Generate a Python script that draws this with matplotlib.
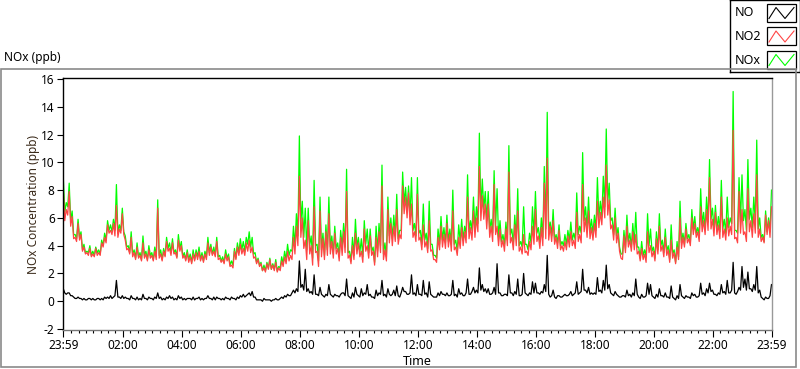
import numpy as np
import matplotlib.pyplot as plt
from matplotlib.patches import Rectangle

plt.rcParams['font.family'] = ['Noto Sans', 'DejaVu Sans']
plt.rcParams['axes.unicode_minus'] = False

# readings every 3 minutes from 23:59, one row per hour (ppb)
no2 = [
    8.0, 5.8, 6.6, 6.2, 7.9, 5.4, 6.1, 4.5, 4.6, 4.3, 5.6, 4.4, 4.8, 3.6, 3.9, 3.4, 3.5, 3.3, 3.8, 3.2,
    3.4, 3.2, 3.8, 3.3, 3.5, 3.3, 4.2, 3.9, 4.6, 4.2, 5.5, 4.9, 5.1, 4.8, 5.6, 4.7, 6.9, 4.6, 5.2, 4.9,
    6.3, 4.8, 4.4, 3.7, 3.8, 3.4, 4.6, 3.2, 3.5, 3.0, 3.9, 3.1, 3.3, 2.9, 4.2, 3.1, 3.4, 2.9, 3.7, 3.1,
    3.3, 2.9, 3.6, 3.0, 6.7, 3.1, 3.4, 2.9, 3.6, 3.2, 4.3, 3.6, 3.8, 3.3, 4.2, 3.4, 3.5, 3.1, 4.4, 3.6,
    4.0, 3.1, 3.3, 2.9, 3.5, 2.8, 3.2, 2.7, 3.4, 2.9, 3.5, 3.0, 3.6, 2.9, 3.3, 2.8, 3.4, 3.0, 4.2, 3.3,
    3.9, 3.3, 3.6, 3.2, 4.3, 3.0, 3.1, 2.8, 3.0, 2.7, 3.4, 2.9, 3.2, 2.5, 2.6, 2.4, 3.6, 3.0, 3.9, 3.3,
    4.1, 3.4, 3.8, 3.3, 4.2, 3.6, 4.4, 3.5, 3.9, 3.1, 3.2, 2.7, 3.0, 2.5, 2.7, 2.2, 2.4, 2.1, 2.7, 2.3,
    3.0, 2.3, 2.6, 2.2, 2.8, 2.1, 2.4, 2.2, 2.9, 2.5, 3.2, 2.7, 3.6, 2.9, 3.3, 3.0, 4.6, 3.4, 5.4, 4.0,
    9.0, 4.6, 6.0, 3.8, 4.4, 3.0, 5.8, 3.4, 4.0, 2.6, 6.8, 3.5, 3.6, 2.5, 6.5, 3.2, 4.5, 3.0, 5.0, 3.3,
    6.3, 3.4, 4.3, 3.1, 4.9, 3.4, 3.8, 2.9, 4.6, 3.3, 5.0, 3.5, 7.9, 3.1, 3.3, 2.7, 4.0, 3.0, 4.9, 3.4,
    4.2, 3.2, 3.6, 2.8, 5.2, 3.6, 4.0, 3.1, 4.7, 3.3, 3.6, 2.6, 4.6, 3.2, 5.0, 3.5, 8.3, 3.0, 3.7, 2.9,
    6.6, 4.2, 5.6, 4.0, 5.4, 4.3, 6.6, 4.1, 4.8, 4.5, 8.3, 6.3, 7.5, 6.0, 7.8, 5.5, 7.0, 4.6, 5.0, 4.3,
    7.7, 4.4, 4.6, 3.7, 5.5, 3.9, 4.3, 3.5, 5.8, 3.6, 3.7, 3.0, 3.0, 2.8, 4.6, 3.7, 5.4, 3.9, 4.8, 3.8,
    5.6, 3.9, 4.8, 3.6, 6.5, 3.7, 3.9, 3.3, 4.6, 3.8, 5.3, 4.0, 5.0, 4.2, 7.5, 4.5, 5.3, 4.4, 6.5, 4.6,
    6.0, 5.0, 9.7, 5.8, 7.6, 5.9, 7.0, 5.2, 7.0, 4.6, 5.4, 4.3, 8.4, 4.8, 5.4, 4.0, 5.2, 3.9, 4.4, 3.6,
    5.2, 4.0, 9.3, 4.2, 4.6, 3.7, 5.5, 4.0, 6.5, 3.6, 3.9, 3.4, 4.8, 3.5, 3.6, 3.3, 4.3, 3.7, 5.4, 4.1,
    6.6, 4.3, 4.7, 3.8, 5.3, 4.0, 8.5, 4.5, 10.3, 4.4, 5.4, 4.3, 5.8, 4.1, 4.6, 3.8, 5.1, 3.7, 4.0, 3.6,
    4.3, 3.7, 4.7, 3.9, 5.0, 4.0, 4.4, 3.8, 6.4, 4.3, 4.8, 4.2, 8.4, 5.0, 6.0, 4.6, 6.5, 4.5, 5.3, 4.4,
    5.6, 4.6, 7.2, 5.3, 6.4, 5.5, 7.5, 6.0, 9.8, 6.2, 7.3, 5.2, 5.5, 4.4, 6.0, 4.2, 4.9, 3.6, 3.1, 3.0,
    4.7, 3.5, 5.4, 3.9, 4.4, 3.6, 5.0, 3.7, 4.8, 3.4, 3.6, 2.9, 3.8, 3.0, 3.4, 2.8, 5.0, 3.5, 4.0, 3.2,
    3.6, 2.9, 4.5, 3.4, 5.4, 3.6, 4.0, 3.2, 4.6, 3.3, 3.7, 2.8, 4.4, 3.1, 3.5, 2.7, 3.9, 3.0, 6.0, 3.8,
    4.6, 3.9, 5.2, 4.2, 4.5, 4.0, 6.0, 4.8, 5.6, 4.6, 5.0, 4.3, 6.8, 5.0, 5.8, 4.8, 6.6, 5.1, 8.9, 5.2,
    5.9, 4.7, 6.4, 4.8, 5.5, 4.5, 7.5, 4.6, 5.2, 4.4, 6.0, 4.7, 5.4, 4.8, 12.3, 4.5, 4.6, 4.2, 7.9, 4.9,
    6.6, 4.8, 5.0, 4.3, 8.1, 5.0, 5.8, 4.6, 6.3, 4.9, 9.1, 4.6, 5.2, 4.3, 4.6, 4.2, 6.2, 4.8, 5.8, 4.6,
    6.8,
]
no = [
    0.9, 0.6, 0.5, 0.6, 0.6, 0.4, 0.4, 0.3, 0.2, 0.2, 0.3, 0.2, 0.2, 0.1, 0.2, 0.1, 0.1, 0.2, 0.2, 0.1,
    0.2, 0.1, 0.1, 0.2, 0.2, 0.1, 0.2, 0.1, 0.3, 0.2, 0.3, 0.2, 0.4, 0.2, 0.3, 0.4, 1.5, 0.3, 0.3, 0.2,
    0.4, 0.2, 0.3, 0.2, 0.2, 0.1, 0.4, 0.2, 0.2, 0.1, 0.3, 0.1, 0.2, 0.1, 0.5, 0.2, 0.2, 0.1, 0.3, 0.2,
    0.2, 0.1, 0.3, 0.2, 0.6, 0.2, 0.3, 0.1, 0.2, 0.1, 0.3, 0.2, 0.4, 0.2, 0.3, 0.1, 0.2, 0.1, 0.4, 0.2,
    0.3, 0.1, 0.2, 0.1, 0.2, 0.2, 0.2, 0.1, 0.3, 0.1, 0.2, 0.2, 0.3, 0.1, 0.2, 0.1, 0.2, 0.2, 0.4, 0.2,
    0.2, 0.1, 0.3, 0.1, 0.3, 0.2, 0.2, 0.1, 0.2, 0.1, 0.3, 0.2, 0.2, 0.1, 0.3, 0.2, 0.2, 0.1, 0.3, 0.2,
    0.4, 0.3, 0.5, 0.3, 0.4, 0.5, 0.6, 0.4, 0.7, 0.3, 0.3, 0.1, 0.1, 0.1, 0.1, 0.0, 0.2, 0.1, 0.1, 0.1,
    0.1, 0.0, 0.1, 0.1, 0.2, 0.1, 0.1, 0.2, 0.3, 0.2, 0.4, 0.3, 0.5, 0.4, 0.4, 0.6, 0.8, 0.6, 0.9, 0.7,
    2.9, 1.0, 1.2, 0.8, 2.3, 0.7, 0.9, 0.6, 0.7, 0.5, 1.9, 0.5, 0.5, 0.4, 1.0, 0.5, 0.4, 0.3, 0.5, 0.4,
    1.2, 0.5, 0.4, 0.3, 0.5, 0.4, 0.4, 0.3, 0.5, 0.6, 0.6, 0.4, 1.6, 0.4, 0.3, 0.2, 0.6, 0.3, 1.0, 0.5,
    0.4, 0.3, 0.9, 0.4, 0.6, 0.5, 1.2, 0.4, 0.5, 0.3, 0.3, 0.2, 0.8, 0.4, 0.6, 0.5, 1.5, 0.4, 0.5, 0.3,
    0.9, 0.5, 0.4, 0.5, 0.8, 0.4, 1.1, 0.4, 0.3, 0.6, 1.0, 0.7, 0.7, 0.5, 0.5, 0.6, 1.9, 0.5, 0.6, 0.4,
    1.2, 0.5, 0.5, 0.4, 1.5, 0.5, 0.6, 0.3, 1.4, 0.5, 0.4, 0.3, 0.3, 0.3, 0.6, 0.4, 0.7, 0.5, 0.5, 0.4,
    0.6, 0.4, 0.4, 0.5, 1.5, 0.4, 0.5, 0.3, 0.9, 0.5, 0.6, 0.4, 0.4, 0.6, 1.6, 0.5, 0.5, 0.7, 1.0, 0.6,
    0.8, 0.6, 2.4, 0.8, 1.2, 0.7, 0.9, 0.6, 0.9, 0.5, 0.5, 0.6, 1.0, 0.5, 2.7, 0.6, 0.6, 0.4, 0.4, 0.5,
    0.5, 0.4, 1.9, 0.6, 0.6, 0.4, 0.7, 0.5, 1.6, 0.4, 0.4, 0.5, 2.0, 0.6, 0.5, 0.4, 0.6, 0.5, 1.4, 0.6,
    1.3, 0.6, 0.6, 0.5, 0.7, 0.6, 1.2, 0.7, 3.3, 0.5, 0.3, 0.4, 0.8, 0.3, 0.2, 0.4, 0.4, 0.3, 0.3, 0.4,
    0.5, 0.4, 0.4, 0.5, 0.7, 0.4, 0.5, 0.6, 1.4, 0.5, 0.6, 0.7, 2.3, 0.8, 0.8, 0.6, 1.0, 0.5, 0.6, 0.5,
    0.6, 0.5, 1.7, 0.7, 0.8, 0.6, 1.5, 0.8, 2.6, 0.9, 1.2, 0.6, 0.5, 0.4, 0.7, 0.5, 0.4, 0.3, 0.3, 0.4,
    0.4, 0.3, 0.8, 0.4, 0.5, 0.3, 0.6, 0.4, 1.6, 0.5, 0.3, 0.2, 0.5, 0.3, 0.3, 0.4, 1.3, 0.5, 1.2, 0.4,
    0.3, 0.2, 0.5, 0.3, 0.9, 0.4, 0.4, 0.3, 0.6, 0.3, 0.3, 0.2, 1.1, 0.3, 0.2, 0.1, 0.4, 0.2, 1.2, 0.4,
    0.3, 0.2, 0.4, 0.3, 0.3, 0.2, 0.6, 0.4, 0.5, 0.3, 0.3, 0.4, 1.3, 0.5, 0.6, 0.4, 0.9, 0.6, 1.3, 0.7,
    0.8, 0.5, 0.5, 0.4, 0.6, 0.5, 1.2, 0.6, 0.7, 0.5, 1.5, 0.6, 0.6, 0.8, 2.8, 0.6, 0.5, 0.7, 1.0, 0.8,
    2.5, 1.0, 1.6, 0.8, 2.1, 0.9, 0.9, 0.7, 1.2, 0.8, 2.5, 0.6, 0.8, 0.3, 0.2, 0.1, 0.3, 0.2, 0.2, 0.4,
    1.2,
]
nox = [
    8.9, 6.4, 7.1, 6.8, 8.5, 5.8, 6.5, 4.8, 4.8, 4.5, 5.9, 4.6, 5.0, 3.7, 4.1, 3.5, 3.6, 3.5, 4.0, 3.3,
    3.6, 3.3, 3.9, 3.5, 3.7, 3.4, 4.4, 4.0, 4.9, 4.4, 5.8, 5.1, 5.5, 5.0, 5.9, 5.1, 8.4, 4.9, 5.5, 5.1,
    6.7, 5.0, 4.7, 3.9, 4.0, 3.5, 5.0, 3.4, 3.7, 3.1, 4.2, 3.2, 3.5, 3.0, 4.7, 3.3, 3.6, 3.0, 4.0, 3.3,
    3.5, 3.0, 3.9, 3.2, 7.3, 3.3, 3.7, 3.0, 3.8, 3.3, 4.6, 3.8, 4.2, 3.5, 4.5, 3.5, 3.7, 3.2, 4.8, 3.8,
    4.3, 3.2, 3.5, 3.0, 3.7, 3.0, 3.4, 2.8, 3.7, 3.0, 3.7, 3.2, 3.9, 3.0, 3.5, 2.9, 3.6, 3.2, 4.6, 3.5,
    4.1, 3.4, 3.9, 3.3, 4.6, 3.2, 3.3, 2.9, 3.2, 2.8, 3.7, 3.1, 3.4, 2.6, 2.9, 2.6, 3.8, 3.1, 4.2, 3.5,
    4.5, 3.7, 4.3, 3.6, 4.6, 4.1, 5.0, 3.9, 4.6, 3.4, 3.5, 2.8, 3.1, 2.6, 2.8, 2.2, 2.6, 2.2, 2.8, 2.4,
    3.1, 2.3, 2.7, 2.3, 3.0, 2.2, 2.5, 2.4, 3.2, 2.7, 3.6, 3.0, 4.1, 3.3, 3.7, 3.6, 5.4, 4.0, 6.3, 4.7,
    11.9, 5.6, 7.2, 4.6, 6.7, 3.7, 6.7, 4.0, 4.7, 3.1, 8.7, 4.0, 4.1, 2.9, 7.5, 3.7, 4.9, 3.3, 5.5, 3.7,
    7.5, 3.9, 4.7, 3.4, 5.4, 3.8, 4.2, 3.2, 5.1, 3.9, 5.6, 3.9, 9.5, 3.5, 3.6, 2.9, 4.6, 3.3, 5.9, 3.9,
    4.6, 3.5, 4.5, 3.2, 5.8, 4.1, 5.2, 3.5, 5.2, 3.6, 3.9, 2.8, 5.4, 3.6, 5.6, 4.0, 9.8, 3.4, 4.2, 3.2,
    7.5, 4.7, 6.0, 4.5, 6.2, 4.7, 7.7, 4.5, 5.1, 5.1, 9.3, 7.0, 8.2, 6.5, 8.3, 6.1, 8.9, 5.1, 5.6, 4.7,
    8.9, 4.9, 5.1, 4.1, 7.0, 4.4, 4.9, 3.8, 7.2, 4.1, 4.1, 3.3, 3.3, 3.1, 5.2, 4.1, 6.1, 4.4, 5.3, 4.2,
    6.2, 4.3, 5.2, 4.1, 8.0, 4.1, 4.4, 3.6, 5.5, 4.3, 5.9, 4.4, 5.4, 4.8, 9.1, 5.0, 5.8, 5.1, 7.5, 5.2,
    6.8, 5.6, 12.1, 6.6, 8.8, 6.6, 7.9, 5.8, 7.9, 5.1, 5.9, 4.9, 9.4, 5.3, 8.1, 4.6, 5.8, 4.3, 4.8, 4.1,
    5.7, 4.4, 11.2, 4.8, 5.2, 4.1, 6.2, 4.5, 8.1, 4.0, 4.3, 3.9, 6.8, 4.1, 4.1, 3.7, 4.9, 4.2, 6.8, 4.7,
    7.9, 4.9, 5.3, 4.3, 6.0, 4.6, 9.7, 5.2, 13.6, 4.9, 5.7, 4.7, 6.6, 4.4, 4.8, 4.2, 5.5, 4.0, 4.3, 4.0,
    4.8, 4.1, 5.1, 4.4, 5.7, 4.4, 4.9, 4.4, 7.8, 4.8, 5.4, 4.9, 10.7, 5.8, 6.8, 5.2, 7.5, 5.0, 5.9, 4.9,
    6.2, 5.1, 8.9, 6.0, 7.2, 6.1, 9.0, 6.8, 12.4, 7.1, 8.5, 5.8, 6.0, 4.8, 6.7, 4.7, 5.3, 3.9, 3.4, 3.4,
    5.1, 3.8, 6.2, 4.3, 4.9, 3.9, 5.6, 4.1, 6.4, 3.9, 3.9, 3.1, 4.3, 3.3, 3.7, 3.2, 6.3, 4.0, 5.2, 3.6,
    3.9, 3.1, 5.0, 3.7, 6.3, 4.0, 4.4, 3.5, 5.2, 3.6, 4.0, 3.0, 5.5, 3.4, 3.7, 2.8, 4.3, 3.2, 7.2, 4.2,
    4.9, 4.1, 5.6, 4.5, 4.8, 4.2, 6.6, 5.2, 6.1, 4.9, 5.3, 4.7, 8.1, 5.5, 6.4, 5.2, 7.5, 5.7, 10.2, 5.9,
    6.7, 5.2, 6.9, 5.2, 6.1, 5.0, 8.7, 5.2, 5.9, 4.9, 7.5, 5.3, 6.0, 5.6, 15.1, 5.1, 5.1, 4.9, 8.9, 5.7,
    9.1, 5.8, 6.6, 5.1, 10.2, 5.9, 6.7, 5.3, 7.5, 5.7, 11.6, 5.2, 6.0, 4.6, 4.8, 4.3, 6.5, 5.0, 6.0, 5.0,
    8.0,
]
hours = np.arange(len(no2)) * 0.05  # hours since 23:59

tick_pos = [0, 2.017, 4.017, 6.017, 8.017, 10.017, 12.017, 14.017, 16.017,
            18.017, 20.017, 22.017, 24]
tick_lab = ['23:59', '02:00', '04:00', '06:00', '08:00', '10:00', '12:00',
            '14:00', '16:00', '18:00', '20:00', '22:00', '23:59']
series = [('NO', no, 'black'), ('NO2', no2, '#ff4444'), ('NOx', nox, '#00ff00')]

fig = plt.figure(figsize=(8, 3.69), dpi=100)
ax = fig.add_axes([63 / 800, 39 / 369, 708.5 / 800, 252 / 369])

# green underneath, red over it, black on top
for name, vals, col in reversed(series):
    ax.plot(hours, vals, color=col, lw=0.9)

ax.set_xlim(-0.01, 24.0)
ax.set_ylim(-2.07, 16.07)
ax.set_yticks(range(-2, 17, 2))
ax.set_xticks(tick_pos)
ax.set_xticklabels(tick_lab)
ax.set_xticks(np.arange(2.017 - 8 * 0.25, 24, 0.25)[1:], minor=True)
ax.tick_params(axis='both', labelsize=8.5, colors='black', length=4, width=0.8, pad=2)
ax.tick_params(axis='x', which='major', length=5, pad=1.5)
ax.tick_params(axis='x', which='minor', length=2.5, width=0.8)
for s in ['left', 'top']:
    ax.spines[s].set_color('black')
ax.spines['right'].set_color('#999999')
ax.spines['bottom'].set_color('#777777')
for s in ax.spines.values():
    s.set_linewidth(1.0)

ax.set_xlabel('Time', fontsize=9)
ax.xaxis.set_label_coords(0.5, -0.098)
ax.set_ylabel('NOx Concentration (ppb)', fontsize=8.5, color='#3a2a1a', labelpad=1)
fig.text(4 / 800, 1 - 57 / 369, 'NOx (ppb)', fontsize=8.5, va='center', ha='left')

# grey panel frame
fig.patches.append(Rectangle((0.5 / 800, 2 / 369), 795 / 800, 298 / 369,
                             transform=fig.transFigure, fill=False,
                             ec='#8a8a8a', lw=1.2))

# legend box, drawn in its own small axes (pixel units)
lax = fig.add_axes([730 / 800, 1 - 72 / 369, 70 / 800, 72 / 369])
lax.set_xlim(0, 70)
lax.set_ylim(72, 0)
lax.set_xticks([])
lax.set_yticks([])
for s in lax.spines.values():
    s.set_color('black')
    s.set_linewidth(1.0)
for i, (name, vals, col) in enumerate(series):
    top = 3.5 + i * 23.5
    lax.text(5, top + 9.5, name, fontsize=9, va='center', ha='left')
    lax.add_patch(Rectangle((37, top), 29, 18, fc='white', ec='black', lw=0.9))
    lax.plot([39, 46, 55, 64], [top + 15, top + 4, top + 15, top + 4], color=col, lw=0.8)

fig.savefig('out.png', dpi=100)
